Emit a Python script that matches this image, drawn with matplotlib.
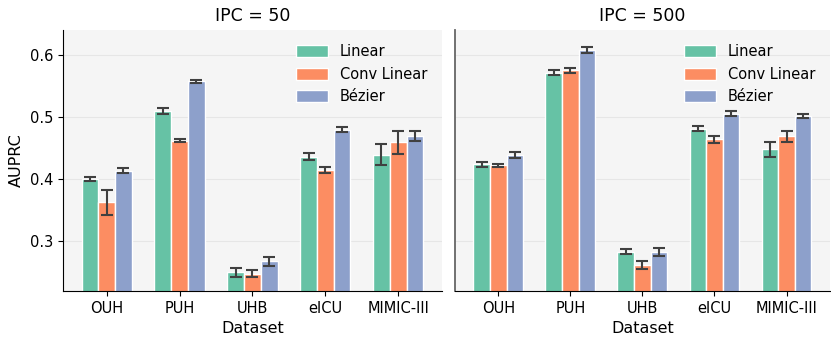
import numpy as np
import matplotlib.pyplot as plt

datasets = ["OUH", "PUH", "UHB", "eICU", "MIMIC-III"]
methods = ["Linear", "Conv Linear", "Bézier"]
colors = ["#66c2a5", "#fc8d62", "#8da0cb"]

# IPC = 50
ipc50_mean = {
    "Linear":      [0.400, 0.510, 0.250, 0.436, 0.439],
    "Conv Linear": [0.363, 0.462, 0.248, 0.415, 0.459],
    "Bézier":      [0.413, 0.557, 0.268, 0.479, 0.470],
}
ipc50_err = {
    "Linear":      [0.003, 0.005, 0.007, 0.006, 0.017],
    "Conv Linear": [0.020, 0.003, 0.006, 0.005, 0.018],
    "Bézier":      [0.004, 0.003, 0.007, 0.004, 0.008],
}

# IPC = 500
ipc500_mean = {
    "Linear":      [0.424, 0.571, 0.283, 0.481, 0.448],
    "Conv Linear": [0.422, 0.575, 0.262, 0.464, 0.469],
    "Bézier":      [0.439, 0.608, 0.283, 0.505, 0.502],
}
ipc500_err = {
    "Linear":      [0.004, 0.004, 0.004, 0.004, 0.012],
    "Conv Linear": [0.003, 0.004, 0.007, 0.006, 0.009],
    "Bézier":      [0.005, 0.005, 0.006, 0.004, 0.003],
}

fig = plt.figure(figsize=(8.31, 3.37), dpi=100)
ax1 = fig.add_axes([0.0758, 0.1365, 0.456, 0.775])
ax2 = fig.add_axes([0.5475, 0.1365, 0.451, 0.775], sharey=ax1)

x = np.arange(len(datasets))
w = 0.23


def draw(ax, means, errs, title):
    ax.set_facecolor("#f5f5f5")
    ax.grid(axis="y", color="#e6e6e6", linewidth=0.8)
    ax.set_axisbelow(True)
    for i, m in enumerate(methods):
        ax.bar(x + (i - 1) * w, means[m], w, color=colors[i], edgecolor="white",
               linewidth=1.0, label=m, yerr=errs[m], capsize=4,
               error_kw=dict(ecolor="#404040", elinewidth=1.5, capthick=1.5))
    ax.set_xticks(x)
    ax.set_xticklabels(datasets, fontsize=10.5)
    ax.set_xlim(-0.6, 4.6)
    ax.set_ylim(0.22, 0.64)
    ax.set_xlabel("Dataset", fontsize=11.5, labelpad=4)
    ax.set_title(title, fontsize=12.5)
    ax.spines["top"].set_visible(False)
    ax.spines["right"].set_visible(False)
    ax.legend(loc="upper right", frameon=False, fontsize=10.5,
              handlelength=2.2, handleheight=0.9, borderaxespad=0.6)


draw(ax1, ipc50_mean, ipc50_err, "IPC = 50")
draw(ax2, ipc500_mean, ipc500_err, "IPC = 500")

ax1.set_yticks([0.3, 0.4, 0.5, 0.6])
ax1.tick_params(axis="y", labelsize=10.5)
ax1.set_ylabel("AUPRC", fontsize=11.5)
ax2.tick_params(axis="y", left=False, labelleft=False)
ax2.spines["left"].set_color("#666666")
ax2.spines["left"].set_linewidth(1.3)

fig.savefig("out.png", dpi=100)
